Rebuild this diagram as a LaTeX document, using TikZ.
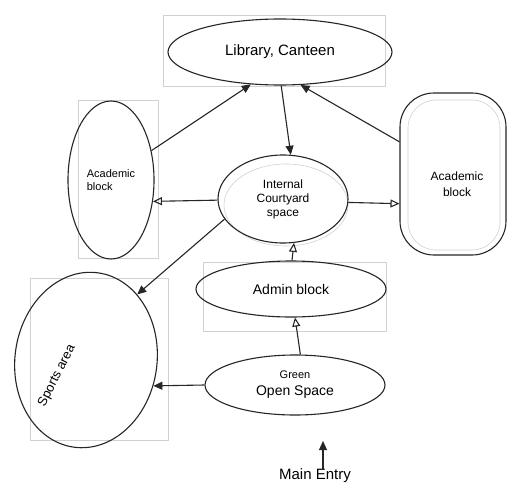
\documentclass[tikz,border=0pt]{standalone}
\usepackage{fontspec}
\setmainfont{Liberation Sans}
\usetikzlibrary{shapes.geometric, arrows.meta}

\begin{document}
\begin{tikzpicture}[x=1pt, y=-1pt,
  ink/.style={draw=black!85, line width=1.1pt},
  pencil/.style={draw=black!18, line width=0.6pt},
  blob/.style={ink, ellipse, inner sep=0pt, align=center},
  flow/.style={ink, -{Triangle[open, length=9pt, width=8pt]}},
  push/.style={ink, -{Triangle[length=9pt, width=8pt]}},
  lbl/.style={inner sep=0pt, align=center}]

\useasboundingbox (0,0) rectangle (510,495);
\fill[white] (0,0) rectangle (510,495);

% faint pencil layout under the inked shapes
\draw[pencil] (163,15) rectangle (385,86);
\draw[pencil] (78,100) rectangle (158,258);
\draw[pencil] (203,262) rectangle (386,331);
\draw[pencil] (30,278) rectangle (168,440);
\draw[pencil] (286,205) ellipse [x radius=62, y radius=41];
\draw[pencil, rounded corners=28pt] (408,100) rectangle (500,250);

% zones
\node[blob, minimum width=224pt, minimum height=66pt,
      font=\fontsize{15}{17}\selectfont] (lib) at (280,52) {Library, Canteen};
\node[blob, minimum width=86pt, minimum height=158pt, align=left,
      font=\fontsize{11}{13}\selectfont] (acl) at (111,180) {Academic\\block};
\node[blob, minimum width=130pt, minimum height=88pt,
      font=\fontsize{12}{14}\selectfont] (court) at (283,199) {Internal\\Courtyard\\space};
\node[ink, rounded corners=34pt, minimum width=106pt, minimum height=162pt] (acr) at (453,174) {};
\node[lbl, font=\fontsize{12}{16}\selectfont] (acrtext) at (457,184) {Academic\\block};
\node[blob, minimum width=190pt, minimum height=56pt,
      font=\fontsize{14}{16}\selectfont] (admin) at (291,289) {Admin block};
\node[blob, minimum width=180pt, minimum height=60pt,
      font=\fontsize{14}{17}\selectfont] (green) at (295,385) {{\fontsize{11}{13}\selectfont Green}\\Open Space};
\node[ink, ellipse, minimum width=142pt, minimum height=176pt, rotate=-8] (sports) at (86,360) {};
\node[lbl, rotate=63, font=\fontsize{13}{15}\selectfont] (sportstext) at (57,376) {Sports area};
\node[lbl, font=\fontsize{15}{17}\selectfont] (entry) at (315,476) {Main Entry};
\coordinate (gate) at (323,441);

% movement between zones
\draw[push] (acl.36) -- (lib.228);
\draw[push] (acr.149) -- (lib.302);
\draw[push] (lib.272) -- (court.80);
\draw[flow] (court.181) -- (acl.-27);
\draw[flow] (court.-3) -- (acr.209);
\draw[push] (court.199) -- (sports.60);
\draw[flow] (admin.88) -- (court.-76);
\draw[flow] (green.80) -- (admin.-82);
\draw[push] (green.west) -- (sports.-13);
\draw[push] (entry.north -| gate) -- (gate);
\end{tikzpicture}
\end{document}
